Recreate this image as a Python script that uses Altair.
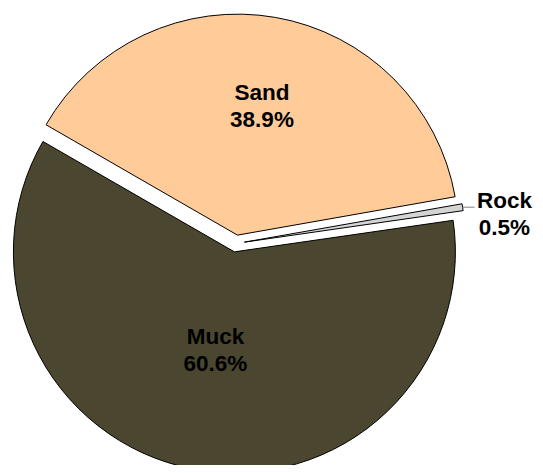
import math
import altair as alt
import pandas as pd

# data
categories = ["Rock", "Muck", "Sand"]
percent = [0.5, 60.6, 38.9]

# styles
colors = ["#D4D4D4", "#4A4630", "#FFCC99"]
label_radius = [270, 109, 139]
label_shift_deg = [3.0, 0.0, 0.8]

START = math.radians(80.0)
CX, CY = 228, 235.5
R = 221
EXPLODE = 8.5

df = pd.DataFrame({
    "cat": categories,
    "value": percent,
    "order": list(range(len(categories))),
    "lr": label_radius,
    "ls": label_shift_deg,
})

base = alt.Chart(df).transform_joinaggregate(
    total="sum(value)"
).transform_window(
    cum="sum(value)", sort=[alt.SortField("order")], frame=[None, 0]
).transform_calculate(
    mid=f"{START} + 2*PI*(datum.cum - datum.value/2)/datum.total"
).transform_calculate(
    cx=f"{CX} + {EXPLODE}*sin(datum.mid)",
    cy=f"{CY} - {EXPLODE}*cos(datum.mid)",
    lx=f"{CX} + datum.lr*sin(datum.mid + datum.ls*PI/180)",
    ly=f"{CY} - datum.lr*cos(datum.mid + datum.ls*PI/180)",
    label="[datum.cat, format(datum.value, '.1f') + '%']",
).transform_calculate(
    ox=f"datum.cx + {R}*sin(datum.mid)",
    oy=f"datum.cy - {R}*cos(datum.mid)",
).transform_calculate(
    ox2="datum.ox + 12",
)

arcs = base.mark_arc(outerRadius=R, stroke="#000000", strokeWidth=1).encode(
    theta=alt.Theta("value:Q", stack=True,
                    scale=alt.Scale(range=[START, START + 2 * math.pi])),
    order=alt.Order("order:Q"),
    color=alt.Color("cat:N", scale=alt.Scale(domain=categories, range=colors), legend=None),
    x=alt.X("cx:Q", scale=None, axis=None),
    y=alt.Y("cy:Q", scale=None, axis=None),
)

labels = base.mark_text(
    font="Liberation Sans", fontWeight="bold", fontSize=22.5, lineHeight=27,
    align="center", baseline="middle", dy=-13.5, color="#000000",
).encode(
    x=alt.X("lx:Q", scale=None, axis=None),
    y=alt.Y("ly:Q", scale=None, axis=None),
    text=alt.Text("label:N"),
)

leader = base.transform_filter("datum.cat == 'Rock'").mark_rule(
    color="#808080", strokeWidth=1
).encode(
    x=alt.X("ox:Q", scale=None, axis=None),
    x2="ox2:Q",
    y=alt.Y("oy:Q", scale=None, axis=None),
)

chart = alt.layer(arcs, leader, labels).properties(
    width=527, height=457, padding=0, autosize=alt.AutoSizeParams(type="none")
).configure_view(stroke=None)

chart.save("out.html", embed_options={"renderer": "svg", "actions": False})
